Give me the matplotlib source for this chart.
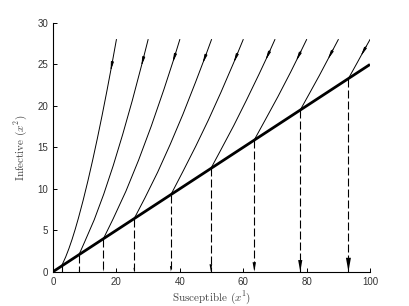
import matplotlib
matplotlib.use('Agg')
import matplotlib.pyplot as plt
import numpy as np

plt.rcParams['font.family'] = 'Liberation Sans'
plt.rcParams['mathtext.fontset'] = 'cm'

# trajectories (start on the line, end at the top)
curve_x = [
    [2.7, 4, 5, 6, 7, 8, 9.5, 11, 12.5, 14, 15.5, 17, 18.5, 20],
    [8.2, 10, 13, 16, 19, 22, 25, 28, 30],
    [15.9, 19, 23, 27, 31, 35, 38, 40],
    [25.6, 29, 33, 37, 41, 45, 48, 50],
    [37.2, 41, 45, 49, 53, 57, 60],
    [49.8, 53, 57, 61, 65, 67.5, 70],
    [63.5, 67, 71, 75, 77.5, 80],
    [78.0, 81, 84, 87, 90],
    [93.2, 96, 98, 100],
]
curve_y = [
    [0.68, 1.78, 2.77, 3.88, 5.11, 6.44, 8.60, 10.94, 13.44, 16.09, 18.88, 21.80, 24.84, 28.0],
    [2.05, 3.61, 6.26, 9.35, 12.80, 16.58, 20.63, 24.98, 28.0],
    [3.98, 6.40, 9.71, 13.46, 17.56, 22.00, 25.52, 28.0],
    [6.4, 8.90, 11.99, 15.38, 19.00, 22.89, 25.91, 28.0],
    [9.3, 12.10, 15.11, 18.28, 21.66, 25.21, 28.0],
    [12.45, 14.73, 17.61, 20.67, 23.83, 25.87, 28.0],
    [15.9, 18.34, 21.15, 24.10, 26.03, 28.0],
    [19.5, 21.57, 23.65, 25.82, 28.0],
    [23.3, 25.23, 26.63, 28.0],
]
# height of the small arrow tip on each trajectory
arrow_y = [24.2, 24.8, 25.2, 25.1, 25.2, 25.5, 25.4, 25.6, 26.0]

# boundary line x2 = x1/4
line_x = [0, 100]
line_y = [0, 25]

fig = plt.figure(figsize=(4.09, 3.06), dpi=100)
ax = fig.add_axes([0.1296, 0.1121, 0.775, 0.8127])

for xs, ys, ay in zip(curve_x, curve_y, arrow_y):
    ax.plot(xs, ys, c='k', lw=0.7)
    # arrow along the curve, pointing down
    x0 = np.interp(ay + 1.2, ys, xs)
    x1 = np.interp(ay, ys, xs)
    ax.annotate('', xy=(x1, ay), xytext=(x0, ay + 1.2),
                arrowprops=dict(arrowstyle='-|>,head_length=0.5,head_width=0.08',
                                color='k', lw=0.6, shrinkA=0, shrinkB=0))
    # dashed drop from the line to zero
    xe, ye = xs[0], ys[0]
    ax.plot([xe, xe], [ye, 0], c='k', lw=0.8, dashes=(7.2, 2.7))
    h = 0.072 * ye
    w = 0.068 * ye
    ax.fill([xe - w / 2, xe + w / 2, xe], [h, h, 0], c='k', lw=0)

ax.plot(line_x, line_y, c='k', lw=2.0, solid_capstyle='butt')

ax.set_xlim(0, 100)
ax.set_ylim(0, 30)
ax.set_xticks([0, 20, 40, 60, 80, 100])
ax.set_yticks([0, 5, 10, 15, 20, 25, 30])
ax.spines['top'].set_visible(False)
ax.spines['right'].set_visible(False)
for s in ['left', 'bottom']:
    ax.spines[s].set_linewidth(0.8)
ax.tick_params(direction='in', length=3, width=0.7, labelsize=7,
               labelcolor='#333333', pad=3.5)

ax.set_xlabel('Susceptible ($x^1$)', family='cmr10', fontsize=8,
              color='#444444', labelpad=2)
ax.set_ylabel('Infective ($x^2$)', family='cmr10', fontsize=8,
              color='#444444', labelpad=6)

plt.savefig('out.png', dpi=100)
